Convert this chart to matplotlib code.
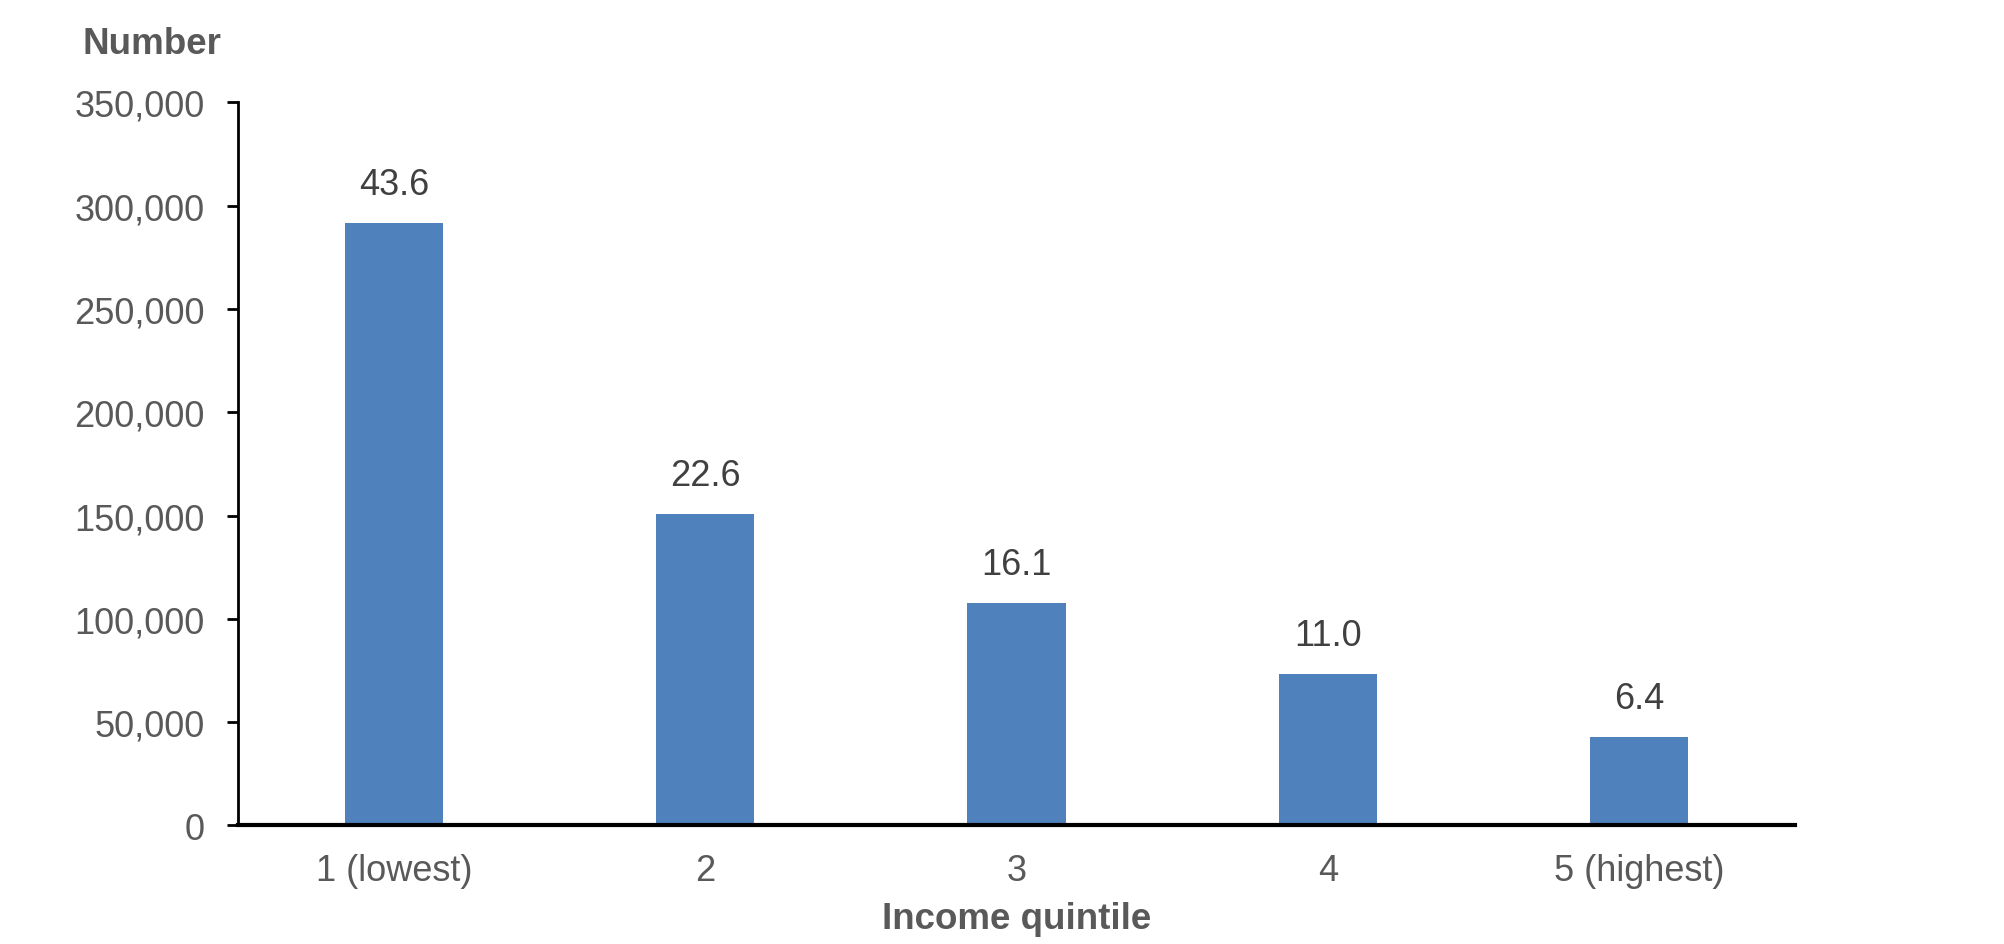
#!/usr/bin/env python3
"""
Bar chart of number of people by income quintile, with shares (%) above bars.
"""
import matplotlib
matplotlib.use('Agg')
import matplotlib.pyplot as plt
from matplotlib.ticker import FuncFormatter

quintiles = ['1 (lowest)', '2', '3', '4', '5 (highest)']
counts = [291700, 151000, 107600, 73500, 42800]
shares = ['43.6', '22.6', '16.1', '11.0', '6.4']
yticks = [0, 50000, 100000, 150000, 200000, 250000, 300000, 350000]

plt.rcParams['font.family'] = ['Liberation Sans', 'DejaVu Sans']

BAR = '#4f81bd'
GREY = '#595959'
DARK = '#404040'

fig = plt.figure(figsize=(20.04, 9.45), dpi=100)
ax = fig.add_axes([0.1188, 0.1255, 0.7769, 0.765])

x = range(len(quintiles))
bars = ax.bar(x, counts, width=0.316, color=BAR, zorder=2)
for b, s in zip(bars, shares):
    ax.annotate(s, (b.get_x() + b.get_width() / 2, b.get_height()),
                xytext=(0, 15), textcoords='offset points',
                ha='center', va='bottom', fontsize=26, color=DARK)

ax.set_xlim(-0.5, len(quintiles) - 0.5)
ax.set_ylim(0, 350000)
ax.set_yticks(yticks)
ax.yaxis.set_major_formatter(FuncFormatter(lambda v, p: f'{int(v):,}'))
ax.set_xticks(list(x))
ax.set_xticklabels(quintiles)

ax.tick_params(axis='y', direction='out', length=8, width=2, colors='black',
               labelcolor=GREY, labelsize=26, pad=16)
ax.tick_params(axis='x', length=0, labelcolor=GREY, labelsize=26, pad=20)

for side in ('top', 'right'):
    ax.spines[side].set_visible(False)
ax.spines['left'].set_linewidth(2)
ax.spines['bottom'].set_linewidth(3)

ax.set_xlabel('Income quintile', fontsize=26.5, fontweight='bold', color=GREY,
              labelpad=9)
fig.text(0.0414, 0.953, 'Number', fontsize=26.5, fontweight='bold', color=GREY,
         ha='left', va='center')

fig.savefig('out.png', dpi=100)
